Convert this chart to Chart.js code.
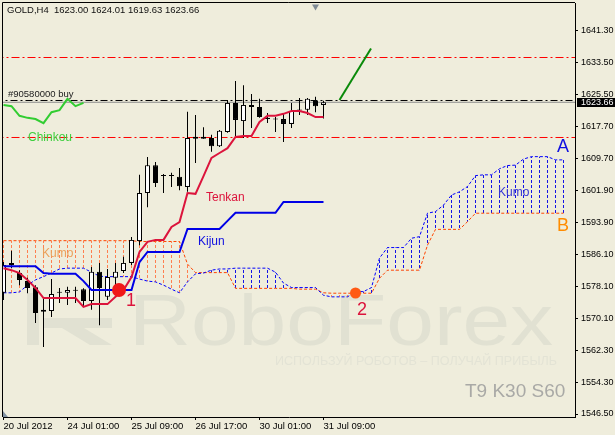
<!DOCTYPE html>
<html>
<head>
<meta charset="utf-8">
<script src="https://cdn.jsdelivr.net/npm/chart.js@4.4.1/dist/chart.umd.min.js"></script>
<style>
html,body{margin:0;padding:0;background:#efeddc;}
#wrap{width:615px;height:435px;}
</style>
</head>
<body>
<div id="wrap"><canvas id="chart" width="615" height="435"></canvas></div>
<script>

/* AXES */

const dateLabels = ["20 Jul 2012","24 Jul 01:00","25 Jul 09:00","26 Jul 17:00","30 Jul 01:00","31 Jul 09:00"];
const dateBars = [0,8,16,24,32,40];
const priceTicks = [1641.30,1633.50,1625.50,1617.70,1609.70,1601.90,1593.90,1586.10,1578.10,1570.10,1562.30,1554.30,1546.50];


/* CANDLES (one per H4 bar, index 0..40) */

const open  = [1576.5,1583.4,1581.4,1579.4,1577.9,1571.8,1572.0,1576.5,1576.5,1577.0,
               1577.4,1574.5,1581.7,1575.5,1580.2,1581.9,1583.9,1589.3,1601.2,1608.1,
               1605.4,1605.4,1605.2,1602.7,1615.1,1614.6,1614.8,1612.8,1616.3,1623.5,
               1619.0,1623.0,1622.5,1619.8,1619.5,1619.5,1618.3,1621.6,1621.8,1624.0,1623.00];
const high  = [1584.1,1586.9,1582.1,1580.2,1578.4,1575.2,1579.9,1577.7,1578.0,1578.0,
               1577.6,1582.9,1583.9,1582.4,1583.9,1585.4,1590.3,1605.7,1610.1,1608.9,
               1605.9,1606.2,1607.4,1621.3,1620.5,1617.5,1615.6,1616.8,1624.2,1628.9,
               1627.9,1625.7,1624.5,1621.0,1620.0,1621.0,1623.5,1624.7,1624.7,1625.0,1624.01];
const low   = [1574.7,1582.6,1578.4,1576.4,1569.0,1563.1,1570.5,1574.0,1573.5,1574.0,
               1573.0,1572.3,1568.5,1574.7,1577.7,1581.4,1583.4,1588.3,1597.7,1602.7,
               1601.2,1602.7,1601.9,1601.5,1608.6,1614.6,1611.4,1612.6,1616.1,1615.1,
               1614.8,1617.3,1619.8,1618.5,1616.3,1613.8,1617.3,1620.5,1620.5,1621.2,1619.63];
const close = [1583.4,1583.9,1579.7,1577.7,1571.5,1572.3,1576.2,1576.5,1577.2,1577.0,
               1574.5,1581.7,1577.7,1580.4,1581.7,1583.9,1589.6,1601.2,1608.1,1603.7,
               1605.4,1605.4,1602.9,1614.8,1614.6,1615.1,1612.8,1616.6,1623.5,1619.3,
               1623.0,1622.5,1620.0,1619.5,1619.4,1618.3,1621.5,1621.8,1624.5,1622.7,1623.66];


/* ICHIMOKU 9/30/60 */

const tenkan = [1582.6,1582.1,1581.4,1579.7,1577.7,1575.2,1575.2,1575.2,1575.2,1575.2,
                1573.0,1573.7,1573.7,1573.7,1575.5,1577.2,1580.4,1586.6,1589.1,1589.6,
                1589.6,1592.8,1594.0,1601.2,1601.0,1605.4,1609.9,1611.1,1612.3,1615.1,
                1615.3,1615.3,1618.8,1620.3,1620.3,1620.8,1621.5,1621.5,1621.0,1620.0,1620.0];
const kijun  = [1583.1,1583.1,1583.1,1583.1,1583.1,1581.4,1581.2,1581.2,1581.2,1581.2,
                1579.4,1577.2,1577.2,1577.2,1577.2,1577.2,1577.2,1584.1,1586.6,1586.6,
                1586.6,1586.6,1586.6,1592.3,1592.3,1592.3,1592.3,1592.3,1594.3,1596.3,
                1596.3,1596.3,1596.3,1596.3,1596.3,1599.0,1599.0,1599.0,1599.0,1599.0,1599.0];
const chinkou = [1623.0,1622.7,1620.3,1619.8,1619.5,1618.5,1621.2,1621.7,1624.5,1622.7,1623.5];
const senkouA = [1576.5,1576.5,1576.7,1578.4,1579.7,1580.5,1581.4,1582.4,1582.6,1582.6,
                 1582.6,1581.6,1580.6,1580.5,1580.5,1580.5,1580.5,1579.9,1579.4,1579.2,
                 1578.4,1577.4,1576.5,1579.2,1581.2,1581.4,1582.1,1582.4,1582.4,1582.6,
                 1582.6,1582.6,1582.6,1582.6,1581.6,1578.9,1577.8,1577.8,1577.8,1577.8,
                 1575.9,1575.5,1575.5,1575.5,1576.8,1576.8,1577.8,1585.1,1587.7,1587.7,
                 1587.7,1590.0,1590.4,1596.2,1596.6,1598.2,1600.7,1601.5,1602.8,1605.5,
                 1605.7,1605.7,1607.2,1608.0,1608.1,1609.6,1610.2,1610.2,1610.2,1609.4,1609.4];
const senkouB = [1589.4,1589.4,1589.4,1589.4,1589.4,1589.4,1589.4,1589.4,1589.4,1589.4,
                 1589.4,1589.4,1589.4,1589.4,1589.4,1589.4,1589.4,1589.2,1589.2,1589.2,
                 1589.2,1589.2,1589.2,1583.6,1581.5,1581.5,1581.5,1581.5,1581.5,1577.6,
                 1577.6,1577.6,1577.6,1577.6,1577.6,1577.6,1577.6,1577.4,1577.4,1577.4,
                 1576.5,1576.4,1576.4,1576.4,1576.4,1576.4,1576.4,1580.1,1582.1,1582.1,
                 1582.1,1582.1,1582.1,1588.3,1592.2,1592.2,1592.2,1592.2,1594.1,1596.2,
                 1596.2,1596.2,1596.2,1596.2,1596.2,1596.2,1596.2,1596.2,1596.2,1596.2,1596.2];


/* LEVELS, FORECAST, CROSSES */

const bid = 1623.66;
const orderPrice = 1624.10;
const levelHigh = 1634.74;
const levelLow = 1614.94;
const forecastX = [42, 45.94];
const forecastY = [1624.22, 1636.97];
const crossX = [14.44, 44];
const crossY = [1577.2, 1576.45];
const shiftX = 39;
const shiftY = 1647.36;

const notes = [
  {text:"#90580000 buy", x:0.56,  y:1625.58, color:"#202020", size:9.5},
  {text:"Chinkou",       x:3.06,  y:1614.82, color:"#3fcf3f", size:12},
  {text:"Tenkan",        x:25.31, y:1599.97, color:"#dc143c", size:12},
  {text:"Kijun",         x:24.31, y:1589.07, color:"#1010e0", size:12},
  {text:"Kumo",          x:4.81,  y:1586.10, color:"#eba05a", size:12},
  {text:"Kumo",          x:61.81, y:1601.20, color:"#3535d5", size:12},
  {text:"A",             x:69.19, y:1612.59, color:"#1010e0", size:18},
  {text:"B",             x:69.19, y:1593.03, color:"#ff8c00", size:18},
  {text:"1",             x:15.31, y:1574.35, color:"#dc143c", size:18},
  {text:"2",             x:44.19, y:1572.24, color:"#dc143c", size:18}
];

const FONT = '"Liberation Sans", Arial, sans-serif';
const BG = "#efeddc";


/* BUILD */

const pts = arr => arr.map((v,i)=>({x:i, y:v}));
const hline = v => [{x:-1, y:v},{x:80, y:v}];

const kumoUp = [];
const kumoDown = [];
senkouA.forEach((a,i)=>{
  let b = senkouB[i];
  if(a > b) kumoUp.push({x:i, y:[b,a]});
  else if(b > a) kumoDown.push({x:i, y:[a,b]});
});

const canvas = document.getElementById("chart");
const ctx0 = canvas.getContext("2d");

function dashPattern(color){
  let c = document.createElement("canvas");
  c.width = 1; c.height = 5;
  let g = c.getContext("2d");
  g.fillStyle = color;
  g.fillRect(0,0,1,3);
  return ctx0.createPattern(c,"repeat");
}

const barBase = {type:"bar", grouped:false, inflateAmount:0, borderSkipped:false};
const lineBase = {type:"line", pointRadius:0, tension:0, fill:false};


/* DECOR */

const decor = {
  id:"decor",
  beforeDraw(chart){
    const ctx = chart.ctx;
    ctx.save();
    ctx.fillStyle = BG;
    ctx.fillRect(0,0,chart.width,chart.height);

    // watermark
    ctx.fillStyle = "#e1e1d2";
    ctx.fillRect(27,293,12,52);
    ctx.beginPath();
    ctx.moveTo(44,318); ctx.lineTo(112,318); ctx.lineTo(112,328); ctx.lineTo(84,328);
    ctx.lineTo(112,345); ctx.lineTo(90,345); ctx.lineTo(62,328); ctx.lineTo(44,328);
    ctx.closePath(); ctx.fill();

    ctx.textBaseline = "alphabetic";
    ctx.font = "73px " + FONT;
    let w = ctx.measureText("RoboForex").width;
    ctx.save(); ctx.translate(129,345); ctx.scale(424/w,1); ctx.fillText("RoboForex",0,0); ctx.restore();

    ctx.fillStyle = "#e3e3d5";
    ctx.font = "13px " + FONT;
    let sub = "ИСПОЛЬЗУЙ РОБОТОВ – ПОЛУЧАЙ ПРИБЫЛЬ";
    w = ctx.measureText(sub).width;
    ctx.save(); ctx.translate(275,365); ctx.scale(282/w,1); ctx.fillText(sub,0,0); ctx.restore();

    ctx.fillStyle = "#a9a9a6";
    ctx.font = "19px " + FONT;
    ctx.fillText("T9 K30 S60",465,397);
    ctx.restore();
  },
  afterDatasetsDraw(chart){
    const {ctx, scales:{x, y}} = chart;
    ctx.save();
    ctx.textBaseline = "middle";
    ctx.textAlign = "left";
    notes.forEach(n=>{
      ctx.font = n.size + "px " + FONT;
      ctx.fillStyle = n.color;
      ctx.fillText(n.text, x.getPixelForValue(n.x), y.getPixelForValue(n.y));
    });
    ctx.restore();
  },
  afterDraw(chart){
    const {ctx, chartArea:a, scales:{y}} = chart;
    ctx.save();
    ctx.strokeStyle = "#000";
    ctx.lineWidth = 1;
    ctx.beginPath();
    ctx.moveTo(2.5, a.bottom); ctx.lineTo(2.5, 2.5); ctx.lineTo(a.right, 2.5);
    ctx.stroke();

    ctx.fillStyle = "#8393a3";
    ctx.beginPath();
    ctx.moveTo(3,411); ctx.lineTo(3,417); ctx.lineTo(8,417); ctx.closePath(); ctx.fill();

    // bid box
    let py = Math.round(y.getPixelForValue(bid));
    ctx.fillStyle = "#000";
    ctx.fillRect(577, py-4, 38, 9);
    ctx.fillStyle = "#fff";
    ctx.font = "9px " + FONT;
    ctx.textBaseline = "middle";
    ctx.fillText(bid.toFixed(2), 581, py+0.5);

    // title
    ctx.fillStyle = "#101010";
    ctx.font = "9.5px " + FONT;
    ctx.fillText("GOLD,H4  1623.00 1624.01 1619.63 1623.66", 7, 10.5);
    ctx.restore();
  }
};


/* CHART */

new Chart(canvas,{
  type:"bar",
  data:{
    datasets:[
      Object.assign({}, lineBase, {data:[{x:crossX[1],y:crossY[1]}], showLine:false, pointRadius:5.5,
        pointBackgroundColor:"#ff5a14", pointBorderWidth:0, order:0}),
      Object.assign({}, lineBase, {data:[{x:crossX[0],y:crossY[0]}], showLine:false, pointRadius:7,
        pointBackgroundColor:"#f01818", pointBorderWidth:0, order:0}),
      Object.assign({}, lineBase, {data:[{x:shiftX,y:shiftY}], showLine:false, pointRadius:4,
        pointStyle:"triangle", rotation:180, pointBackgroundColor:"#7f8a95", pointBorderWidth:0, clip:false, order:0}),
      Object.assign({}, lineBase, {data:[{x:forecastX[0],y:forecastY[0]},{x:forecastX[1],y:forecastY[1]}],
        borderColor:"#0a8a0a", borderWidth:2, order:1}),
      Object.assign({}, lineBase, {data:pts(tenkan), borderColor:"#dc143c", borderWidth:2, order:2}),
      Object.assign({}, lineBase, {data:pts(kijun), borderColor:"#0000e6", borderWidth:2, order:3}),
      Object.assign({}, lineBase, {data:pts(chinkou), borderColor:"#32cd32", borderWidth:2, order:4}),
      Object.assign({}, barBase, {
        data:open.map((o,i)=>({x:i, y:[o, close[i]]})),
        backgroundColor:open.map((o,i)=> close[i] > o ? "#ffffff" : "#000000"),
        borderColor:"#000", borderWidth:1, barThickness:5, minBarLength:1, order:5}),
      Object.assign({}, barBase, {
        data:low.map((l,i)=>({x:i, y:[l, high[i]]})),
        backgroundColor:"#000", borderWidth:0, barThickness:1, order:6}),
      Object.assign({}, lineBase, {data:pts(senkouA), borderColor:"#0000ff", borderWidth:1, borderDash:[3,2], order:7}),
      Object.assign({}, lineBase, {data:pts(senkouB), borderColor:"#ff4500", borderWidth:1, borderDash:[3,2], order:8}),
      Object.assign({}, barBase, {data:kumoUp, backgroundColor:dashPattern("#1414e6"), borderWidth:0, barThickness:1, order:9}),
      Object.assign({}, barBase, {data:kumoDown, backgroundColor:dashPattern("#ff7f50"), borderWidth:0, barThickness:1, order:10}),
      Object.assign({}, lineBase, {data:hline(bid), borderColor:"#8c8c8c", borderWidth:1, order:11}),
      Object.assign({}, lineBase, {data:hline(orderPrice), borderColor:"#000", borderWidth:1, borderDash:[7,3,2,3], order:12}),
      Object.assign({}, lineBase, {data:hline(levelHigh), borderColor:"#ff0000", borderWidth:1, borderDash:[8,3,2,3], order:13}),
      Object.assign({}, lineBase, {data:hline(levelLow), borderColor:"#ff0000", borderWidth:1, borderDash:[8,3,2,3], order:14})
    ]
  },
  options:{
    responsive:false,
    animation:false,
    devicePixelRatio:1,
    events:[],
    layout:{padding:{left:3, top:3, right:0, bottom:0}, autoPadding:false},
    plugins:{legend:{display:false}, tooltip:{enabled:false}},
    scales:{
      x:{
        type:"linear", min:-0.0625, max:71.4375, offset:false,
        grid:{display:true, offset:false, drawOnChartArea:false, drawTicks:true, tickLength:3, color:"#000"},
        border:{display:true, color:"#000", width:1},
        ticks:{autoSkip:false, maxRotation:0, minRotation:0, align:"start", padding:1, color:"#000",
          font:{family:FONT, size:9.5},
          callback:(v)=>{ let k = dateBars.indexOf(v); return k >= 0 ? dateLabels[k] : ""; }},
        afterBuildTicks:(s)=>{ s.ticks = dateBars.map(v=>({value:v})); },
        afterFit:(s)=>{ s.height = 18; s.paddingLeft = 0; s.paddingRight = 0; }
      },
      y:{
        type:"linear", position:"right", min:1545.76, max:1648.23,
        grid:{display:true, offset:false, drawOnChartArea:false, drawTicks:true, tickLength:3, color:"#000"},
        border:{display:true, color:"#000", width:1},
        ticks:{padding:3, color:"#000", font:{family:FONT, size:9},
          callback:(v)=>Number(v).toFixed(2)},
        afterBuildTicks:(s)=>{ s.ticks = priceTicks.map(v=>({value:v})); },
        afterFit:(s)=>{ s.width = 40; s.paddingTop = 0; s.paddingBottom = 0; }
      }
    }
  },
  plugins:[decor]
});

</script>
</body>
</html>
